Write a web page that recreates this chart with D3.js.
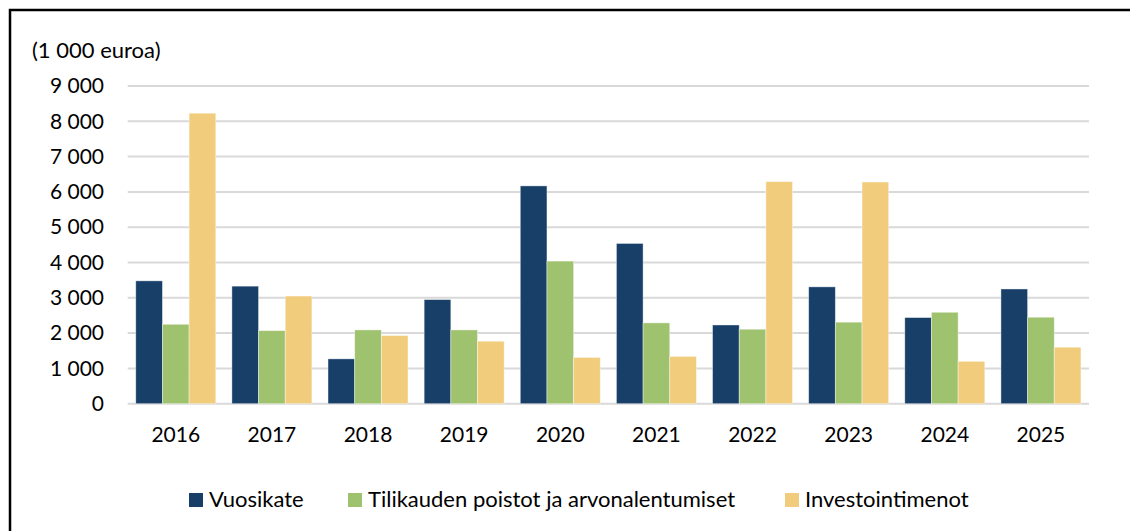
<!DOCTYPE html>
<html>
<head>
<meta charset="utf-8">
<script src="https://cdn.jsdelivr.net/npm/d3@7"></script>
<style>
  html, body { margin: 0; padding: 0; background: #fff; }
  svg { display: block; }
  text { font-family: Lato, "Noto Sans", sans-serif; fill: #000; }
</style>
</head>
<body>
<script>
const years = ["2016","2017","2018","2019","2020","2021","2022","2023","2024","2025"];
const seriesNames = ["Vuosikate", "Tilikauden poistot ja arvonalentumiset", "Investointimenot"];
const vuosikate = [3480, 3330, 1270, 2950, 6170, 4540, 2230, 3310, 2440, 3250];
const poistot   = [2250, 2070, 2090, 2090, 4040, 2290, 2110, 2310, 2590, 2450];
const investoinnit = [8230, 3050, 1930, 1770, 1310, 1340, 6290, 6280, 1200, 1600];
const yTicks = [0, 1000, 2000, 3000, 4000, 5000, 6000, 7000, 8000, 9000];
const unitLabel = "(1 000 euroa)";
const colors = ["#173F68", "#9FC26F", "#F1CC7C"];

const W = 1130, H = 531;
const svg = d3.select("body").append("svg").attr("width", W).attr("height", H);

// frame
svg.append("path")
  .attr("d", `M10,${H + 5} L10,10 L${W + 5},10`)
  .attr("fill", "none").attr("stroke", "#000").attr("stroke-width", 2.5);

const plotL = 127.7, plotR = 1089;
const x0 = d3.scaleBand().domain(years).range([plotL, plotR]).paddingInner(0.1678).paddingOuter(0.0839);
const x1 = d3.scaleBand().domain(d3.range(3)).range([0, x0.bandwidth()]);
const y = d3.scaleLinear().domain([0, 9000]).range([403.7, 86]);

// gridlines
svg.append("g").selectAll("line").data(yTicks).join("line")
  .attr("x1", plotL).attr("x2", plotR)
  .attr("y1", d => y(d)).attr("y2", d => y(d))
  .attr("stroke", "#D9D9D9").attr("stroke-width", 2);

// y axis labels
const yAxis = d3.axisLeft(y).tickValues(yTicks).tickSize(0).tickPadding(0)
  .tickFormat(d => d3.format(",")(d).replace(/,/g, "\u00a0"));
const gy = svg.append("g").attr("transform", "translate(104,0)").call(yAxis);
gy.select(".domain").remove();
gy.selectAll("text").style("font-family", "Lato, 'Noto Sans', sans-serif").style("font-size", "21px").attr("fill", "#000");

// x axis labels
const xAxis = d3.axisBottom(x0).tickSize(0).tickPadding(0);
const gx = svg.append("g").attr("transform", "translate(0,427)").call(xAxis);
gx.select(".domain").remove();
gx.selectAll("text").style("font-family", "Lato, 'Noto Sans', sans-serif").style("font-size", "21px").attr("fill", "#000");

// unit label
svg.append("text").attr("x", 32).attr("y", 58).style("font-size", "22px").text(unitLabel);

// bars
const seriesData = [vuosikate, poistot, investoinnit];
const groups = svg.append("g").selectAll("g").data(years).join("g")
  .attr("transform", d => `translate(${x0(d)},0)`);
groups.selectAll("rect").data((d, i) => seriesData.map((s, k) => ({k, v: s[i]}))).join("rect")
  .attr("x", d => x1(d.k))
  .attr("width", x1.bandwidth())
  .attr("y", d => y(d.v))
  .attr("height", d => y(0) - y(d.v))
  .attr("fill", d => colors[d.k])
  .attr("stroke", "#fff").attr("stroke-width", 0.8).attr("stroke-opacity", 0.5);

// legend
const legendX = [189, 348, 785];
const leg = svg.append("g");
seriesNames.forEach((name, k) => {
  leg.append("rect").attr("x", legendX[k]).attr("y", 493).attr("width", 14).attr("height", 14).attr("fill", colors[k]);
  leg.append("text").attr("x", legendX[k] + 20).attr("y", 506.5).style("font-size", "22px").text(name);
});
</script>
</body>
</html>
